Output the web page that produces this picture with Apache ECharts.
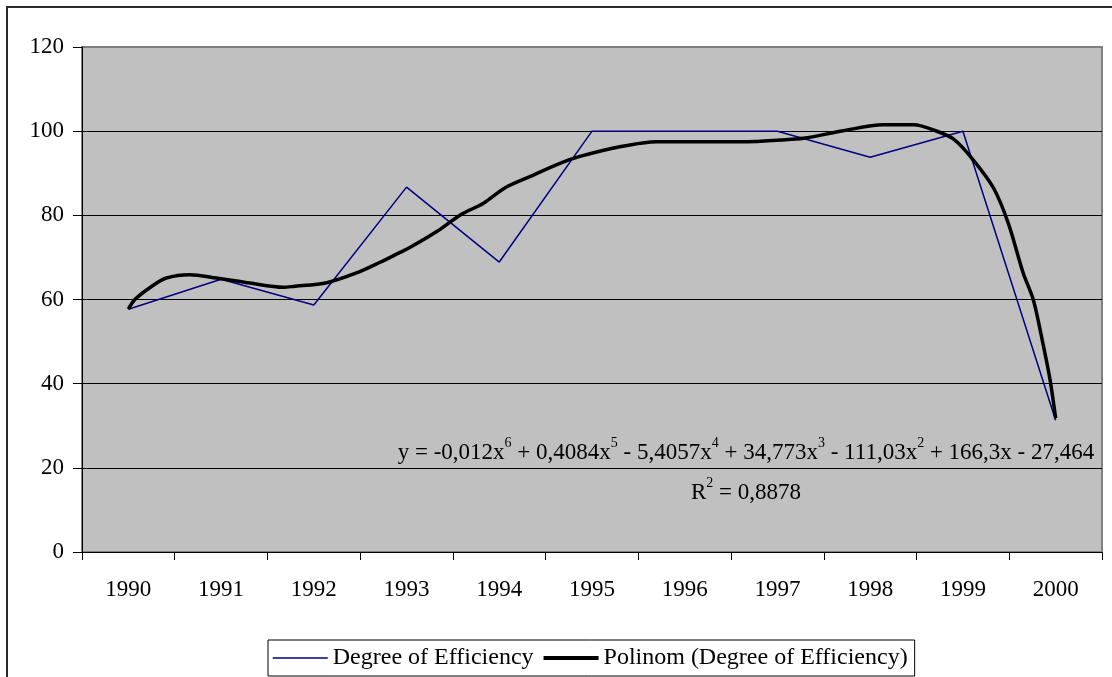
<!DOCTYPE html>
<html>
<head>
<meta charset="utf-8">
<script src="https://cdn.jsdelivr.net/npm/echarts@6/dist/echarts.min.js"></script>
<style>
html,body{margin:0;padding:0;background:#fff;}
#chart{width:1112px;height:677px;}
</style>
</head>
<body>
<div id="chart"></div>
<script>
// ---- data ----
var years = ['1990','1991','1992','1993','1994','1995','1996','1997','1998','1999','2000'];
var efficiency = [57.7, 64.8, 58.7, 86.7, 68.9, 100, 100, 100, 93.8, 100, 31.3];
// trend curve: position in category units (0 = 1990) and value
var trendX = [0, 0.07, 0.25, 0.41, 0.66, 0.95, 1.31, 1.67, 1.78, 2.14, 2.46, 2.71, 2.93, 3.04, 3.33, 3.58, 3.83, 4.06, 4.33, 4.66, 4.87, 5.30, 5.70, 6.17, 6.67, 7.03, 7.28, 7.71, 8.14, 8.47, 8.68, 8.90, 9.11, 9.33, 9.49, 9.65, 9.76, 9.87, 9.94, 10.0];
var trendY = [57.7, 60.0, 63.1, 65.1, 65.9, 65.1, 63.9, 62.9, 63.1, 64.0, 66.3, 68.8, 71.2, 72.4, 76.2, 80.1, 82.9, 86.5, 89.2, 92.4, 94.0, 96.3, 97.5, 97.5, 97.5, 97.9, 98.3, 100.1, 101.5, 101.5, 100.3, 98.1, 93.2, 86.5, 78.1, 66.3, 59.9, 48.8, 40.9, 31.8];
var yTicks = [0, 20, 40, 60, 80, 100, 120];
var seriesNames = ['Degree of Efficiency', 'Polinom (Degree of Efficiency)'];
var equationText = ['y = -0,012x', '6', ' + 0,4084x', '5', ' - 5,4057x', '4', ' + 34,773x', '3', ' - 111,03x', '2', ' + 166,3x - 27,464'];
var r2Text = ['R', '2', ' = 0,8878'];

// ---- build ----
var FONT = '"Liberation Serif", "Times New Roman", serif';
var trendData = trendX.map(function (x, i) { return [x, trendY[i]]; });

function richLine(parts) {
  return parts.map(function (p, i) { return (i % 2 === 1 ? '{s|' : '{n|') + p + '}'; }).join('');
}
var eqRich = richLine(equationText) + '\n' + richLine(r2Text);

var chart = echarts.init(document.getElementById('chart'), null, {renderer: 'canvas'});
chart.setOption({
  animation: false,
  backgroundColor: '#ffffff',
  textStyle: {fontFamily: FONT},
  grid: {
    left: 82, right: 10, top: 47, bottom: 125,
    show: true, backgroundColor: '#C0C0C0', borderColor: '#808080', borderWidth: 2
  },
  legend: {
    left: 268, top: 640,
    data: [
      {name: seriesNames[0], lineStyle: {width: 1.5, color: '#000080'}, itemStyle: {opacity: 0}},
      {name: seriesNames[1], lineStyle: {width: 4, color: '#000000'}, itemStyle: {opacity: 0}}
    ],
    itemWidth: 55, itemHeight: 14, itemGap: 8,
    padding: [6, 7, 6, 4],
    backgroundColor: '#ffffff', borderColor: '#000000', borderWidth: 1,
    textStyle: {fontFamily: FONT, fontSize: 24, color: '#000'}
  },
  xAxis: [{
    type: 'category', data: years, boundaryGap: true,
    axisLine: {lineStyle: {color: '#000', width: 1}},
    axisTick: {show: true, length: 8, lineStyle: {color: '#000'}},
    axisLabel: {fontFamily: FONT, fontSize: 23, color: '#000', margin: 26},
    splitLine: {show: false}
  }, {
    type: 'value', min: -0.5, max: 10.5, show: false
  }],
  yAxis: {
    type: 'value', min: 0, max: 120, interval: 20,
    axisLine: {show: true, onZero: false, lineStyle: {color: '#000', width: 1}},
    axisTick: {show: true, length: 9, lineStyle: {color: '#000'}},
    axisLabel: {fontFamily: FONT, fontSize: 23, color: '#000', margin: 18,
      formatter: function (v) { return yTicks.indexOf(v) >= 0 ? String(v) : ''; }},
    splitLine: {show: true, lineStyle: {color: ['#000','#000','#000','#000','#000','#000','#808080'], width: 1}}
  },
  series: [{
    name: seriesNames[0], type: 'line', data: efficiency,
    symbol: 'none', lineStyle: {color: '#000080', width: 1.5}, itemStyle: {color: '#000080'}, z: 3
  }, {
    name: seriesNames[1], type: 'line', data: trendData, xAxisIndex: 1,
    symbol: 'none', smooth: 0.3, lineStyle: {color: '#000000', width: 3.5}, itemStyle: {color: '#000'}, z: 4
  }],
  graphic: [{
    type: 'rect', x: 0, y: 0, z: 100, silent: true,
    shape: {x: 7, y: 7, width: 1200, height: 800},
    style: {fill: 'none', stroke: '#2a2a2a', lineWidth: 2}
  }, {
    type: 'text', x: 746, y: 433, z: 100, silent: true,
    style: {
      text: eqRich, align: 'center', verticalAlign: 'top', fill: '#000',
      font: '23px ' + FONT,
      rich: {
        n: {fontFamily: FONT, fontSize: 23, color: '#000', lineHeight: 40},
        s: {fontFamily: FONT, fontSize: 14, color: '#000', lineHeight: 40, padding: [0, 0, 20, 0]}
      }
    }
  }]
});
</script>
</body>
</html>
